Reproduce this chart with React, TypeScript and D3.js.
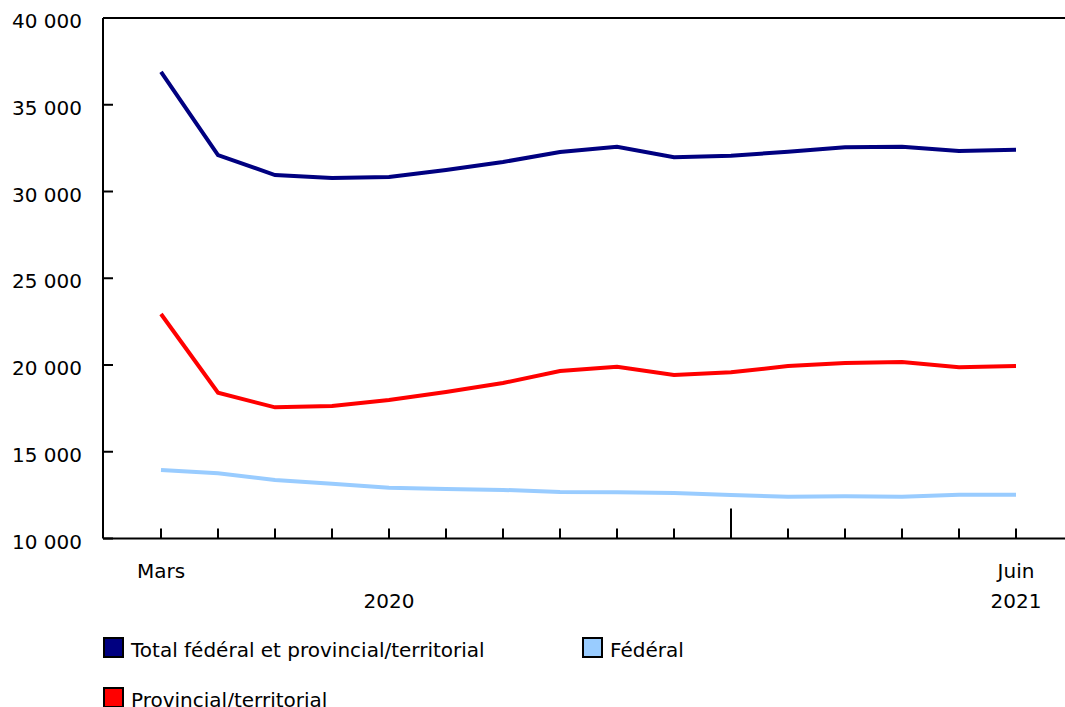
import React from "react";
import * as d3 from "d3";

const months = [
  "Mars 2020", "Avril 2020", "Mai 2020", "Juin 2020", "Juillet 2020", "Août 2020",
  "Septembre 2020", "Octobre 2020", "Novembre 2020", "Décembre 2020",
  "Janvier 2021", "Février 2021", "Mars 2021", "Avril 2021", "Mai 2021", "Juin 2021",
];

const totalValues = [36900, 32100, 30950, 30780, 30840, 31240, 31700, 32280, 32580, 31970, 32060, 32290, 32550, 32580, 32330, 32410];
const provincialValues = [22940, 18400, 17560, 17640, 17980, 18440, 18960, 19650, 19900, 19420, 19580, 19940, 20120, 20170, 19870, 19940];
const federalValues = [13950, 13760, 13370, 13160, 12930, 12850, 12800, 12680, 12660, 12620, 12510, 12410, 12430, 12410, 12520, 12520];

const yTicks = [10000, 15000, 20000, 25000, 30000, 35000, 40000];
const monthLabels = [
  { month: "Mars 2020", label: "Mars" },
  { month: "Juin 2021", label: "Juin" },
];
const yearLabels = [
  { month: "Juillet 2020", label: "2020" },
  { month: "Juin 2021", label: "2021" },
];
const yearBreak = "Janvier 2021";

const seriesNames = ["Total fédéral et provincial/territorial", "Fédéral", "Provincial/territorial"];
const seriesColors = ["#000080", "#99CCFF", "#FF0000"];

const W = 1065;
const H = 707;
const left = 103;
const top = 18;
const bottom = 538.5;
const font = "'DejaVu Sans', Verdana, sans-serif";
const fs = 20;

export default function App() {
  const x = d3.scalePoint<string>().domain(months).range([161, 1016]);
  const y = d3.scaleLinear().domain([10000, 40000]).range([bottom, top]);
  const line = d3
    .line<number>()
    .x((_, i) => x(months[i]) as number)
    .y((d) => y(d));
  const fmt = (v: number) => d3.format(",")(v).replace(/,/g, " ");

  const series = [
    { values: totalValues, color: seriesColors[0] },
    { values: provincialValues, color: seriesColors[2] },
    { values: federalValues, color: seriesColors[1] },
  ];

  const legend = [
    { name: seriesNames[0], color: seriesColors[0], x: 103, y: 637 },
    { name: seriesNames[1], color: seriesColors[1], x: 582, y: 637 },
    { name: seriesNames[2], color: seriesColors[2], x: 103, y: 687 },
  ];

  return (
    <div style={{ position: "absolute", left: 0, top: 0 }}>
      <svg width={W} height={H} style={{ display: "block" }} fontFamily={font}>
        <rect width={W} height={H} fill="#fff" />
        <line x1={left} x2={W} y1={top} y2={top} stroke="#000" strokeWidth={2} />
        <line x1={left} x2={W} y1={bottom} y2={bottom} stroke="#000" strokeWidth={2} />
        <line x1={left} x2={left} y1={top} y2={bottom} stroke="#000" strokeWidth={2} />
        {yTicks.map((t) => (
          <g key={t}>
            <line x1={left} x2={left + 10} y1={y(t)} y2={y(t)} stroke="#000" strokeWidth={2} />
            <text x={82} y={y(t) + 10} textAnchor="end" fontSize={fs} fill="#000">
              {fmt(t)}
            </text>
          </g>
        ))}
        {months.map((m) => (
          <line
            key={m}
            x1={x(m)}
            x2={x(m)}
            y1={bottom}
            y2={m === yearBreak ? bottom - 30 : bottom - 10}
            stroke="#000"
            strokeWidth={2}
          />
        ))}
        {monthLabels.map((d) => (
          <text key={d.label} x={x(d.month)} y={578} textAnchor="middle" fontSize={fs} fill="#000">
            {d.label}
          </text>
        ))}
        {yearLabels.map((d) => (
          <text key={d.label} x={x(d.month)} y={608} textAnchor="middle" fontSize={fs} fill="#000">
            {d.label}
          </text>
        ))}
        {series.map((s, i) => (
          <path key={i} d={line(s.values) || ""} fill="none" stroke={s.color} strokeWidth={4} strokeLinejoin="miter" />
        ))}
        {legend.map((l) => (
          <g key={l.name}>
            <rect x={l.x + 1} y={l.y + 1} width={19} height={19} fill={l.color} stroke="#000" strokeWidth={2} />
            <text x={l.x + 28} y={l.y + 19.5} fontSize={fs} fill="#000">
              {l.name}
            </text>
          </g>
        ))}
      </svg>
    </div>
  );
}
